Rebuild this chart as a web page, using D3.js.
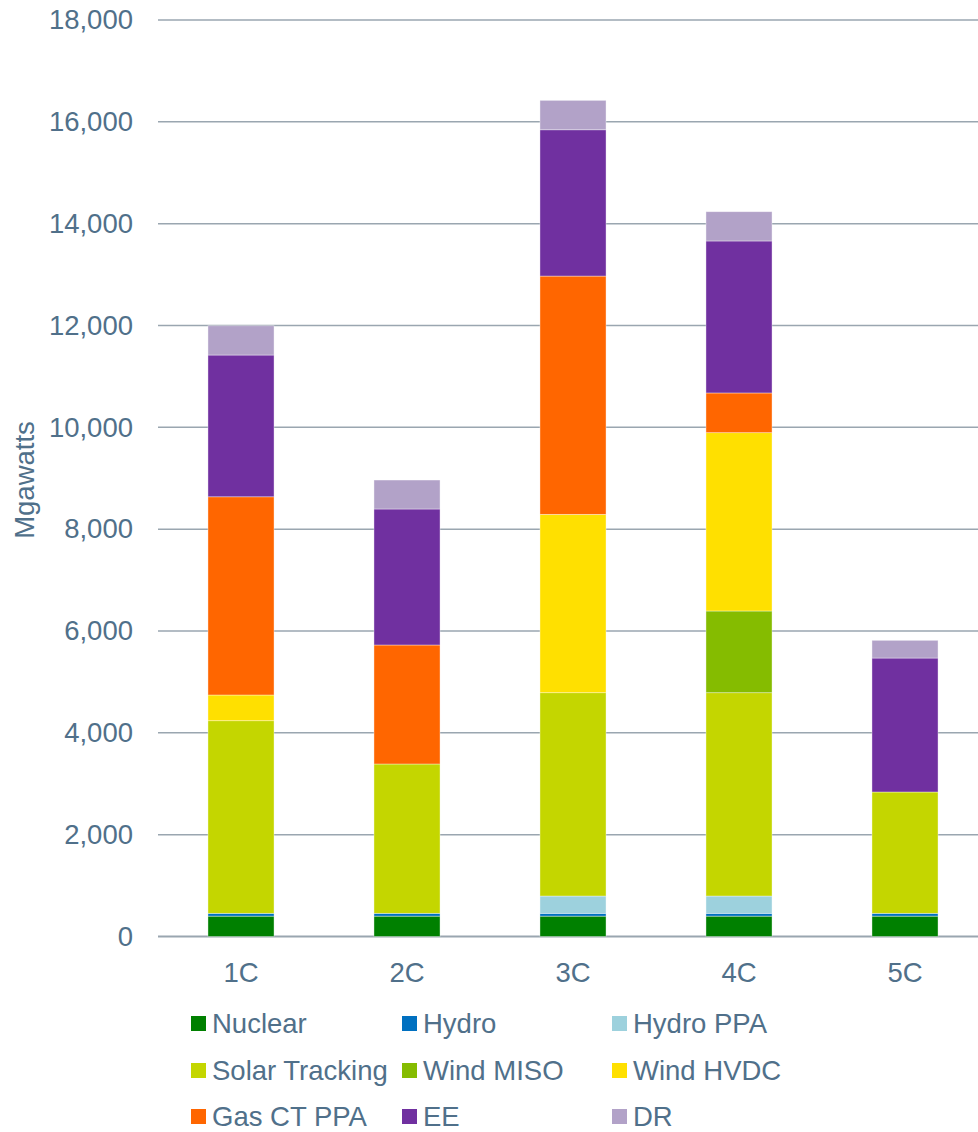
<!DOCTYPE html>
<html>
<head>
<meta charset="utf-8">
<script src="https://cdn.jsdelivr.net/npm/d3@7"></script>
<style>
  html, body { margin: 0; padding: 0; background: #fff; }
  svg { display: block; font-family: "Liberation Sans", Arial, sans-serif; }
</style>
</head>
<body>
<svg id="chart" width="978" height="1132"></svg>
<script>
const categories = ["1C", "2C", "3C", "4C", "5C"];
const seriesNames = ["Nuclear", "Hydro", "Hydro PPA", "Solar Tracking", "Wind MISO", "Wind HVDC", "Gas CT PPA", "EE", "DR"];
const seriesColors = ["#008000", "#0070C0", "#9DD1DD", "#C4D600", "#85BC00", "#FFE000", "#FF6600", "#7030A0", "#B2A2C8"];

const nuclear       = [400, 400, 400, 400, 400];
const hydro         = [55, 55, 55, 55, 55];
const hydroPPA      = [0, 0, 340, 340, 0];
const solarTracking = [3783, 2933, 3993, 3993, 2383];
const windMISO      = [0, 0, 0, 1605, 0];
const windHVDC      = [505, 0, 3503, 3502, 0];
const gasCTPPA      = [3893, 2337, 4680, 780, 0];
const ee            = [2784, 2671, 2873, 2985, 2631];
const dr            = [575, 569, 578, 575, 348];

const yTicks = [0, 2000, 4000, 6000, 8000, 10000, 12000, 14000, 16000, 18000];
const yLabel = "Mgawatts";

const seriesValues = [nuclear, hydro, hydroPPA, solarTracking, windMISO, windHVDC, gasCTPPA, ee, dr];

const rows = categories.map((c, i) => {
  const r = { cat: c };
  seriesNames.forEach((s, j) => { r[s] = seriesValues[j][i]; });
  return r;
});

const svg = d3.select("#chart");
const textColor = "#50708A";
const gridColor = "#9AA6B0";
const fs = "27.5px";

const x = d3.scaleBand().domain(categories).range([158, 988]).paddingInner(0.602).paddingOuter(0.301);
const y = d3.scaleLinear().domain([0, 18000]).range([936.5, 20]);

// gridlines
svg.append("g").selectAll("line").data(yTicks).join("line")
  .attr("x1", 158).attr("x2", 978)
  .attr("y1", d => y(d)).attr("y2", d => y(d))
  .attr("stroke", gridColor).attr("stroke-width", d => d === 0 ? 2 : 1.5);

// y axis labels
const yAxis = d3.axisLeft(y).tickValues(yTicks).tickFormat(d3.format(",")).tickSize(0).tickPadding(0);
const yg = svg.append("g").attr("transform", "translate(133,0)").call(yAxis);
yg.select(".domain").remove();
yg.selectAll("text").attr("fill", textColor).style("font-size", fs).attr("font-family", "Liberation Sans, Arial, sans-serif");

// x axis labels
const xAxis = d3.axisBottom(x).tickSize(0).tickPadding(0);
const xg = svg.append("g").attr("transform", "translate(0,962)").call(xAxis);
xg.select(".domain").remove();
xg.selectAll("text").attr("fill", textColor).style("font-size", fs).attr("font-family", "Liberation Sans, Arial, sans-serif");

// y title
svg.append("text")
  .attr("transform", "translate(34,480) rotate(-90)")
  .attr("text-anchor", "middle")
  .attr("fill", textColor)
  .style("font-size", fs)
  .text(yLabel);

// stacked bars
const stack = d3.stack().keys(seriesNames);
const stacked = stack(rows);
svg.append("g").selectAll("g").data(stacked).join("g")
  .attr("fill", (d, i) => seriesColors[i])
  .selectAll("rect").data(d => d.filter(p => p[1] - p[0] > 0)).join("rect")
  .attr("x", d => x(d.data.cat))
  .attr("width", x.bandwidth())
  .attr("y", d => y(d[1]))
  .attr("height", d => y(d[0]) - y(d[1]))
  .attr("stroke", "#ffffff").attr("stroke-opacity", 0.5).attr("stroke-width", 0.75);

// legend
const legendCols = [191, 402, 612];
const legendRows = [1023, 1070, 1116];
const lg = svg.append("g");
seriesNames.forEach((s, i) => {
  const cx = legendCols[i % 3];
  const cy = legendRows[Math.floor(i / 3)];
  lg.append("rect").attr("x", cx).attr("y", cy - 7).attr("width", 15).attr("height", 15).attr("fill", seriesColors[i]);
  lg.append("text").attr("x", cx + 21).attr("y", cy).attr("dy", "0.35em")
    .attr("fill", textColor).style("font-size", fs).text(s);
});
</script>
</body>
</html>
